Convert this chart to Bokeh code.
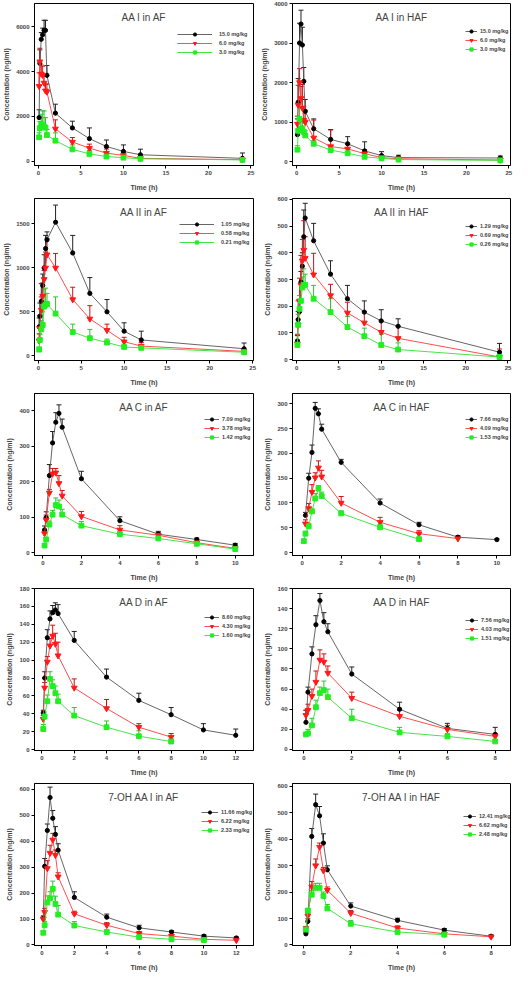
from bokeh.plotting import figure
from bokeh.layouts import gridplot
from bokeh.models import (ColumnDataSource, Whisker, TeeHead, Legend, LegendItem,
                          Label, FixedTicker, Range1d)
from bokeh.embed import file_html
from bokeh.resources import INLINE

# ---------------- data ----------------
t_long = [0.083, 0.167, 0.333, 0.5, 0.667, 0.833, 1, 2, 4, 6, 8, 10, 12, 24]

# AA I in AF
aa1_af_labels = ["15.0 mg/kg", "6.0 mg/kg", "3.0 mg/kg"]
aa1_af_hi = [1950, 4380, 5450, 5650, 5850, 5850, 3840, 2150, 1490, 1010, 660, 440, 290, 130]
aa1_af_hi_sd = [350, 600, 300, 300, 450, 450, 440, 400, 300, 480, 290, 290, 250, 240]
aa1_af_mid = [3350, 4450, 3900, 3850, 3500, 3150, 3100, 1450, 860, 585, 365, 260, 130, 70]
aa1_af_mid_sd = [600, 600, 400, 400, 300, 300, 350, 400, 200, 180, 180, 140, 160, 80]
aa1_af_lo = [1070, 1480, 1650, 1600, 1550, 1500, 1170, 920, 530, 330, 210, 160, 110, 60]
aa1_af_lo_sd = [200, 300, 450, 650, 700, 450, 250, 350, 200, 150, 100, 80, 60, 40]

# AA I in HAF
aa1_haf_labels = ["15.0 mg/kg", "6.0 mg/kg", "3.0 mg/kg"]
aa1_haf_hi = [680, 1500, 3000, 3480, 2950, 2030, 1270, 830, 560, 450, 270, 150, 100, 90]
aa1_haf_hi_sd = [400, 600, 500, 350, 450, 350, 300, 250, 250, 180, 230, 100, 60, 50]
aa1_haf_mid = [950, 1430, 2000, 1600, 1350, 1050, 1000, 600, 380, 320, 200, 100, 70, 40]
aa1_haf_mid_sd = [200, 500, 350, 300, 600, 350, 300, 450, 420, 120, 100, 60, 40, 30]
aa1_haf_lo = [300, 780, 1080, 830, 800, 750, 660, 450, 290, 210, 120, 80, 50, 30]
aa1_haf_lo_sd = [100, 300, 350, 250, 200, 150, 120, 80, 60, 50, 40, 30, 20, 15]

# AA II in AF
aa2_af_labels = ["1.05 mg/kg", "0.58 mg/kg", "0.21 mg/kg"]
aa2_af_hi = [330, 450, 620, 800, 1000, 1220, 1320, 1520, 1170, 710, 500, 280, 180, 80]
aa2_af_hi_sd = [100, 150, 200, 130, 150, 150, 90, 195, 200, 180, 140, 95, 100, 65]
aa2_af_mid = [170, 310, 520, 680, 870, 1000, 1150, 1000, 640, 420, 290, 160, 110, 50]
aa2_af_mid_sd = [80, 150, 150, 150, 100, 180, 180, 165, 140, 150, 70, 50, 40, 20]
aa2_af_lo = [70, 180, 300, 350, 560, 580, 590, 480, 270, 200, 150, 100, 90, 40]
aa2_af_lo_sd = [30, 60, 100, 150, 200, 190, 120, 190, 90, 100, 40, 20, 20, 15]

# AA II in HAF
aa2_haf_labels = ["1.29 mg/kg", "0.69 mg/kg", "0.26 mg/kg"]
aa2_haf_hi = [70, 150, 180, 290, 350, 460, 530, 445, 320, 228, 178, 145, 125, 28]
aa2_haf_hi_sd = [20, 30, 40, 40, 50, 100, 55, 65, 50, 50, 42, 42, 28, 33]
aa2_haf_mid = [60, 130, 220, 280, 370, 410, 380, 318, 240, 175, 138, 103, 80, 10]
aa2_haf_mid_sd = [35, 90, 85, 110, 80, 110, 80, 80, 42, 40, 42, 42, 45, 30]
aa2_haf_lo = [55, 130, 190, 220, 270, 280, 280, 228, 178, 122, 88, 55, 38, 10]
aa2_haf_lo_sd = [20, 40, 50, 60, 40, 60, 40, 50, 50, 40, 30, 40, 25, 10]

# AA C in AF
c_af_labels = ["7.09 mg/kg", "3.78 mg/kg", "1.42 mg/kg"]
c_af_t = [0.083, 0.167, 0.333, 0.5, 0.667, 0.833, 1, 2, 4, 6, 8, 10]
c_af_hi = [64, 99, 217, 309, 367, 392, 353, 208, 90, 52, 37, 21]
c_af_hi_sd = [11, 16, 31, 32, 27, 24, 23, 21, 11, 8, 4, 5]
c_af_mid = [54, 92, 168, 222, 225, 195, 160, 102, 64, 49, 28, 12]
c_af_mid_sd = [8, 14, 10, 15, 12, 22, 15, 14, 12, 8, 4, 3]
c_af_lo = [20, 37, 79, 107, 134, 130, 107, 76, 52, 40, 25, 10]
c_af_lo_sd = [5, 6, 10, 12, 20, 18, 15, 12, 8, 5, 4, 3]

# AA C in HAF
c_haf_labels = ["7.66 mg/kg", "4.09 mg/kg", "1.53 mg/kg"]
c_haf_hi_t = [0.167, 0.333, 0.5, 0.667, 0.833, 1, 2, 4, 6, 8, 10]
c_haf_hi = [75, 150, 202, 291, 280, 249, 182, 100, 56, 31, 26]
c_haf_hi_sd = [6, 10, 15, 12, 10, 10, 6, 8, 5, 3, 2]
c_haf_mid_t = [0.167, 0.333, 0.5, 0.667, 0.833, 1, 2, 4, 6, 8]
c_haf_mid = [58, 89, 122, 151, 171, 153, 100, 61, 38, 28]
c_haf_mid_sd = [8, 10, 15, 10, 14, 13, 13, 10, 6, 3]
c_haf_lo_t = [0.083, 0.167, 0.333, 0.5, 0.667, 0.833, 1, 2, 4, 6]
c_haf_lo = [23, 38, 53, 83, 109, 129, 114, 79, 51, 27]
c_haf_lo_sd = [3, 5, 6, 5, 10, 6, 8, 5, 5, 3]

# AA D in AF
d_af_labels = ["8.60 mg/kg", "4.30 mg/kg", "1.60 mg/kg"]
d_af_hi_t = [0.083, 0.167, 0.333, 0.5, 0.667, 0.833, 1, 2, 4, 6, 8, 10, 12]
d_af_hi = [41, 80, 125, 146, 153, 156, 152, 122, 81, 55, 39, 22, 16]
d_af_hi_sd = [3, 7, 9, 9, 8, 8, 10, 10, 9, 8, 8, 7, 7]
d_af_t = [0.083, 0.167, 0.333, 0.5, 0.667, 0.833, 1, 2, 4, 6, 8]
d_af_mid = [34, 69, 98, 116, 127, 118, 105, 69, 46, 25, 14]
d_af_mid_sd = [4, 6, 6, 8, 12, 12, 15, 10, 10, 4, 4]
d_af_lo = [23, 37, 54, 79, 71, 63, 54, 38, 25, 15, 9]
d_af_lo_sd = [5, 5, 7, 8, 7, 8, 8, 9, 7, 6, 3]

# AA D in HAF
d_haf_labels = ["7.56 mg/kg", "4.03 mg/kg", "1.51 mg/kg"]
d_haf_t = [0.083, 0.167, 0.333, 0.5, 0.667, 0.833, 1, 2, 4, 6, 8]
d_haf_hi = [27, 57, 95, 124, 148, 127, 117, 75, 40, 21, 15]
d_haf_hi_sd = [12, 5, 7, 9, 7, 9, 8, 7, 7, 5, 7]
d_haf_mid = [34, 39, 53, 67, 89, 87, 76, 51, 33, 20, 13]
d_haf_mid_sd = [5, 6, 7, 11, 10, 8, 7, 6, 6, 4, 3]
d_haf_lo = [15, 16, 24, 42, 56, 59, 52, 31, 17, 13, 8]
d_haf_lo_sd = [2, 4, 7, 7, 6, 9, 8, 9, 5, 3, 2]

# 7-OH AA I in AF
oh_af_labels = ["11.66 mg/kg", "6.22 mg/kg", "2.33 mg/kg"]
oh_af_t = [0.083, 0.167, 0.333, 0.5, 0.667, 0.833, 1, 2, 4, 6, 8, 10, 12]
oh_af_hi = [102, 303, 441, 568, 488, 426, 365, 183, 107, 66, 50, 34, 27]
oh_af_hi_sd = [10, 30, 25, 40, 30, 30, 25, 22, 12, 10, 5, 5, 4]
oh_af_mid = [100, 126, 295, 354, 405, 346, 263, 120, 76, 44, 34, 22, 18]
oh_af_mid_sd = [8, 15, 30, 30, 25, 20, 15, 10, 10, 8, 5, 4, 3]
oh_af_lo_t = [0.083, 0.167, 0.333, 0.5, 0.667, 0.833, 1, 2, 4, 6, 8, 10]
oh_af_lo = [47, 76, 164, 180, 216, 158, 117, 75, 50, 30, 22, 19]
oh_af_lo_sd = [8, 15, 25, 25, 30, 30, 35, 15, 8, 8, 5, 4]

# 7-OH AA I in HAF
oh_haf_labels = ["12.41 mg/kg", "6.62 mg/kg", "2.48 mg/kg"]
oh_haf_t = [0.083, 0.167, 0.333, 0.5, 0.667, 0.833, 1, 2, 4, 6, 8]
oh_haf_hi = [42, 89, 410, 530, 488, 385, 284, 147, 93, 56, 33]
oh_haf_hi_sd = [5, 10, 30, 40, 35, 35, 15, 12, 8, 6, 4]
oh_haf_mid = [62, 110, 220, 300, 370, 281, 207, 120, 64, 42, 31]
oh_haf_mid_sd = [8, 10, 20, 25, 15, 12, 12, 10, 8, 5, 3]
oh_haf_lo_t = [0.083, 0.167, 0.333, 0.5, 0.667, 0.833, 1, 2, 4, 6]
oh_haf_lo = [58, 130, 190, 216, 216, 185, 138, 80, 49, 39]
oh_haf_lo_sd = [5, 8, 15, 17, 17, 15, 15, 12, 5, 3]

titles = ["AA I in AF", "AA I in HAF", "AA II in AF", "AA II in HAF", "AA C in AF",
          "AA C in HAF", "AA D in AF", "AA D in HAF", "7-OH AA I in AF", "7-OH AA I in HAF"]

x_ticks_24 = [0, 5, 10, 15, 20, 25]
x_ticks_10 = [0, 2, 4, 6, 8, 10]
x_ticks_12 = [0, 2, 4, 6, 8, 10, 12]
x_ticks_8 = [0, 2, 4, 6, 8]

# ---------------- styling ----------------
FONT = "Liberation Sans"
STYLES = [
    dict(marker="circle", size=4.2, fill="#000000", line="#555555", err="#222222"),
    dict(marker="inverted_triangle", size=5.8, fill="#ff1a1a", line="#ff3b3b", err="#cc1111"),
    dict(marker="square", size=4.8, fill="#22ee22", line="#33e033", err="#2fc42f"),
]
ROW_H = 195


def make_panel(title, series, labels, xr, yr, xt, yt, left_col, legend_x, legend_top,
               glyph_w, standoff):
    width = 258 if left_col else 255
    p = figure(width=width, height=ROW_H, output_backend="svg", toolbar_location=None,
               x_range=Range1d(*xr), y_range=Range1d(*yr),
               min_border_left=30, min_border_right=5 if left_col else 3,
               min_border_top=3, min_border_bottom=30)
    p.xgrid.visible = False
    p.ygrid.visible = False
    p.outline_line_color = "black"
    p.outline_line_alpha = 1
    p.outline_line_width = 1
    p.background_fill_color = "white"
    p.border_fill_color = "white"

    for ax in (p.xaxis[0], p.yaxis[0]):
        ax.axis_line_color = "black"
        ax.major_tick_in = 0
        ax.major_tick_out = 3
        ax.minor_tick_line_color = None
        ax.major_label_text_font = FONT
        ax.major_label_text_font_size = "6px"
        ax.major_label_text_font_style = "bold"
        ax.major_label_standoff = 2
        ax.axis_label_text_font = FONT
        ax.axis_label_text_font_size = "7px"
        ax.axis_label_text_font_style = "bold"
    p.xaxis.axis_label = "Time (h)"
    p.xaxis.axis_label_standoff = 6
    p.yaxis.axis_label = "Concentration (ng/ml)"
    p.yaxis.axis_label_standoff = 3
    p.xaxis.ticker = FixedTicker(ticks=xt)
    p.yaxis.ticker = FixedTicker(ticks=yt)

    items = []
    for (t, v, sd), lab, st in zip(series, labels, STYLES):
        src = ColumnDataSource(dict(x=t, y=v, up=[a + b for a, b in zip(v, sd)]))
        rl = p.line("x", "y", source=src, line_color=st["line"], line_width=0.9)
        wh = Whisker(source=src, base="x", lower="y", upper="up",
                     line_color=st["err"], line_width=1,
                     lower_head=None,
                     upper_head=TeeHead(size=5, line_color=st["err"], line_width=1))
        p.add_layout(wh)
        rs = p.scatter("x", "y", source=src, marker=st["marker"], size=st["size"],
                       fill_color=st["fill"], line_color=st["fill"])
        items.append(LegendItem(label=lab, renderers=[rl, rs]))

    frame_h = ROW_H - 33
    leg_h = 3 * 8 + 2 * 1
    legend = Legend(items=items, location=(legend_x, frame_h - legend_top - leg_h),
                    border_line_alpha=0, background_fill_alpha=0,
                    label_text_font=FONT, label_text_font_size="5.5px",
                    label_text_font_style="bold", glyph_width=glyph_w,
                    glyph_height=8, label_height=8, label_standoff=standoff,
                    spacing=1, padding=0, margin=0)
    p.add_layout(legend)

    p.add_layout(Label(x=(xr[0] + xr[1]) / 2, y=yr[1] - 0.085 * (yr[1] - yr[0]),
                       text=title, text_align="center", text_baseline="middle",
                       text_font=FONT, text_font_size="10px"))
    return p


panels = [
    make_panel(titles[0],
               [(t_long, aa1_af_hi, aa1_af_hi_sd), (t_long, aa1_af_mid, aa1_af_mid_sd),
                (t_long, aa1_af_lo, aa1_af_lo_sd)],
               aa1_af_labels, (-0.46, 25.3), (-190, 7050), x_ticks_24,
               [0, 2000, 4000, 6000], True, 143, 27, 35, 7),
    make_panel(titles[1],
               [(t_long, aa1_haf_hi, aa1_haf_hi_sd), (t_long, aa1_haf_mid, aa1_haf_mid_sd),
                (t_long, aa1_haf_lo, aa1_haf_lo_sd)],
               aa1_haf_labels, (-0.5, 25.2), (-100, 4000), x_ticks_24,
               [0, 1000, 2000, 3000, 4000], False, 173, 24, 12, 3),
    make_panel(titles[2],
               [(t_long, aa2_af_hi, aa2_af_hi_sd), (t_long, aa2_af_mid, aa2_af_mid_sd),
                (t_long, aa2_af_lo, aa2_af_lo_sd)],
               aa2_af_labels, (-0.46, 25.1), (-54, 1790), x_ticks_24,
               [0, 500, 1000, 1500], True, 145, 22, 35, 7),
    make_panel(titles[3],
               [(t_long, aa2_haf_hi, aa2_haf_hi_sd), (t_long, aa2_haf_mid, aa2_haf_mid_sd),
                (t_long, aa2_haf_lo, aa2_haf_lo_sd)],
               aa2_haf_labels, (-0.5, 25.3), (-3, 603), x_ticks_24,
               [0, 100, 200, 300, 400, 500, 600], False, 173, 24, 12, 3),
    make_panel(titles[4],
               [(c_af_t, c_af_hi, c_af_hi_sd), (c_af_t, c_af_mid, c_af_mid_sd),
                (c_af_t, c_af_lo, c_af_lo_sd)],
               c_af_labels, (-0.44, 10.95), (-8, 448), x_ticks_10,
               [0, 100, 200, 300, 400], True, 170, 22, 15, 3),
    make_panel(titles[5],
               [(c_haf_hi_t, c_haf_hi, c_haf_hi_sd), (c_haf_mid_t, c_haf_mid, c_haf_mid_sd),
                (c_haf_lo_t, c_haf_lo, c_haf_lo_sd)],
               c_haf_labels, (-0.5, 10.7), (-6, 321), x_ticks_10,
               [0, 50, 100, 150, 200, 250, 300], False, 173, 22, 12, 3),
    make_panel(titles[6],
               [(d_af_hi_t, d_af_hi, d_af_hi_sd), (d_af_t, d_af_mid, d_af_mid_sd),
                (d_af_t, d_af_lo, d_af_lo_sd)],
               d_af_labels, (-0.46, 13.1), (-1, 180), x_ticks_12,
               [0, 20, 40, 60, 80, 100, 120, 140, 160, 180], True, 170, 25, 15, 3),
    make_panel(titles[7],
               [(d_haf_t, d_haf_hi, d_haf_hi_sd), (d_haf_t, d_haf_mid, d_haf_mid_sd),
                (d_haf_t, d_haf_lo, d_haf_lo_sd)],
               d_haf_labels, (-0.48, 8.64), (-1, 160), x_ticks_8,
               [0, 20, 40, 60, 80, 100, 120, 140, 160], False, 173, 28, 13, 3),
    make_panel(titles[8],
               [(oh_af_t, oh_af_hi, oh_af_hi_sd), (oh_af_t, oh_af_mid, oh_af_mid_sd),
                (oh_af_lo_t, oh_af_lo, oh_af_lo_sd)],
               oh_af_labels, (-0.46, 13.06), (-2, 622), x_ticks_12,
               [0, 100, 200, 300, 400, 500, 600], True, 167, 25, 17, 3),
    make_panel(titles[9],
               [(oh_haf_t, oh_haf_hi, oh_haf_hi_sd), (oh_haf_t, oh_haf_mid, oh_haf_mid_sd),
                (oh_haf_lo_t, oh_haf_lo, oh_haf_lo_sd)],
               oh_haf_labels, (-0.49, 8.83), (-2, 610), x_ticks_8,
               [0, 100, 200, 300, 400, 500, 600], False, 171, 29, 13, 3),
]

grid = gridplot([panels[i:i + 2] for i in range(0, 10, 2)], toolbar_location=None)

open("out.html", "w").write(file_html(grid, INLINE))
